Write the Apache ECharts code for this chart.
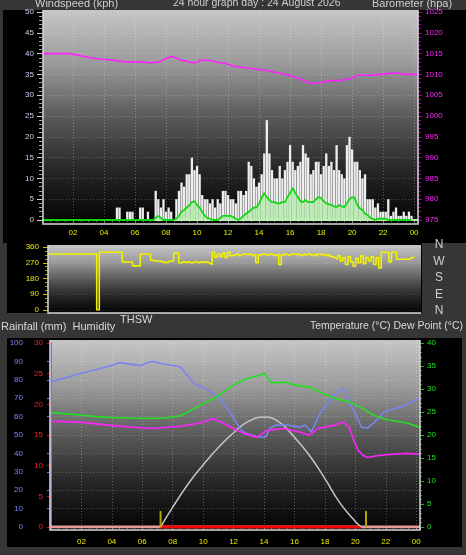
<!DOCTYPE html>
<html><head><meta charset="utf-8">
<script src="https://cdn.jsdelivr.net/npm/echarts@6/dist/echarts.min.js"></script>
<style>html,body{margin:0;padding:0;background:#363636;overflow:hidden}#c{width:466px;height:555px}</style>
</head><body><div id="c"></div><script>
// ---------- DATA ----------
const SAMPLE_MIN = 10; // wind & direction sampled every 10 minutes
const windGust = [
 0,0,0,0,0,0, 0,0,0,0,0,0, 0,0,0,0,0,0, 0,0,0,0,0,0,
 0,0,0,0,0,3, 3,0,0,2,2,2, 0,0,3,3,0,2, 0,0,7,5,3,5,
 2,3,2,0,5,7, 9,8,11,11,15,12, 13,11,6,5,5,4, 5,3,5,4,7,7,
 6,5,5,4,7,7, 6,7,14,13,10,8, 9,11,16,24,16,12, 10,10,13,10,12,14,
 18,14,12,13,14,18, 16,15,11,12,14,14, 11,13,16,13,14,12, 18,12,11,10,18,20,
 17,14,14,12,10,11, 5,5,5,3,4,2, 2,2,5,1,2,3, 1,1,2,1,2,1
];
const windAvg = [
 0,0,0,0,0,0, 0,0,0,0,0,0, 0,0,0,0,0,0, 0,0,0,0,0,0,
 0,0,0,0,0,0, 0,0,0,0,0,0, 0,0,0,0,0,0, 0,0,0.5,1,0.5,0,
 0,0,0,0,0.3,1, 2,2.4,3,3.5,4.3,4.5, 3.6,3,2,1,0.5,0.3, 0,0,0,0.5,1,1,
 1,1,0.7,0.3,0,0.5, 1,1.5,2,2.5,3,3, 4,5.3,6.5,5.5,4.8,4.3, 4.3,4,4,4.3,4.3,5.5,
 6.5,7.7,6.5,5.5,4.5,4.3, 4.8,4.3,4.3,4.3,5,5.5, 5.3,4.5,4,3.8,3.6,3.3, 3.1,3.6,3.3,3.1,4,5,
 5.5,5.3,3.6,2.8,2.4,1.5, 1.2,0.5,0.3,0,0.3,0.3, 0.3,0.3,0,0,0,0, 0,0,0,0,0,0
];
const windDir = [
 320,320,320,320,320,320, 320,320,320,320,320,320, 320,320,320,320,320,320, 320,0,330,330,330,330,
 330,330,330,330,330,274, 274,274,274,252,252,252, 320,320,320,320,285,280, 280,278,275,270,275,280,
 280,325,325,270,275,272, 275,270,272,278,270,275, 272,275,270,260,330,300, 320,305,325,300,330,310,
 315,320,310,318,322,315, 320,310,318,270,315,320, 318,312,322,316,310,320, 260,315,320,312,318,322,
 316,320,310,318,315,322, 312,318,308,320,315,318, 310,318,305,300,290,310, 280,300,260,305,275,250,
 295,270,310,265,300,280, 305,260,300,240,330,330, 330,274,330,330,290,290, 290,290,290,300,300,300
];
const baroHours = [0,1.8,2.5,3.1,3.7,4.4,5.5,6.3,7,7.6,8.1,8.4,8.9,9.5,9.9,10.2,10.8,11.4,11.8,12.3,13.7,14.4,15.4,16,16.6,17.2,17.4,17.9,18.6,19.2,19.9,20.4,21.2,21.8,22.8,23.4,24.25];
const baroValues = [1015,1015,1014.5,1014,1013.7,1013.5,1013,1013,1012.8,1013,1014,1014.3,1013.5,1013,1012.7,1013.4,1013.4,1012.8,1012.7,1012,1011.3,1011,1010.2,1009.7,1009,1008,1007.8,1008,1008.5,1008.5,1009,1009.8,1009.8,1010,1010.4,1010,1010];
const tempHours = [0,1,2.1,3,3.9,5,6.5,6.6,7.5,8.5,9,9.8,10.9,12,12.7,13.3,13.8,14,14.2,14.5,15.3,16,17,17.7,18.6,19.6,20.4,21.2,22.1,23.4,24.25];
const tempValues = [24.9,24.6,24.3,24.0,23.8,23.7,23.6,23.3,23.7,24.2,25.0,26.5,28.3,30.9,32,32.7,33,33.5,32.6,31.3,31.5,30.9,30.4,29.3,28,27.2,25.9,24.3,23.3,22.6,21.7];
const humHours = [0,0.8,1.9,3,4.1,4.5,5.2,5.9,6.3,6.7,7.4,8.5,9.4,10.3,10.9,11.6,12,12.5,12.8,13.6,14.1,14.4,14.8,15.5,16.4,16.7,17.1,17.7,18.4,19,19.2,19.6,20.1,20.4,20.8,21.2,21.9,22.3,23,23.7,24.25];
const humValues = [79,80.7,83.4,85.6,88,89.3,88.5,87.7,89.3,89.9,88.6,87.1,78,74.5,71.7,64.5,59,52.5,51,48.9,48.9,53.8,55.4,55.4,54.3,55.4,51.6,62,70,74.5,75.5,67.9,59.8,54.3,53.8,56.5,62.5,63.6,65.2,67.9,70];
const dewHours = [0,1.9,3.9,5.4,6.7,8.5,9.8,10.7,11.3,12,12.7,13.5,14.2,15.3,16.4,17,17.5,18.6,19.2,19.6,19.9,20.2,20.5,20.8,21.4,22.5,23.4,24.25];
const dewValues = [23,22.8,22.1,21.7,21.4,21.9,22.6,23.6,22.6,21.4,20.3,19.5,21,21.4,20.6,19.9,21.4,22.1,22.8,21.7,18.8,16.6,15.6,15.1,15.5,15.8,16,15.8];
const sunHours = [7.2,8,9,10,11,12,13,14,15,16,17,18,19,20,20.4];
const sunValues = [0,4.3,9.3,13.5,17.3,20.5,23,23.9,22.8,19.5,15.5,10.5,5.2,1.2,0];
const rainHours = [0,24.25];
const rainValues = [0,0];
const sunriseHour = 7.2, sunsetHour = 20.4, moonriseHour = 20.7;
const xTickLabels = ['02','04','06','08','10','12','14','16','18','20','22','00'];
const dirLabels = ['N','W','S','E','N'];

// ---------- BUILD ----------
const step = SAMPLE_MIN/60;
const pairs = arr => arr.map((v,i)=>[i*step, v]);
const zip = (h,v) => h.map((x,i)=>[x, v[i]]);
const XMAX = 24.25;
const FONT = '"Liberation Sans", Arial, sans-serif';
function hourLabel(v){
  if (v <= 0.01 || v > 24.01) return '';
  const r = Math.round(v);
  if (Math.abs(v-r) > 1e-6 || r % 2) return '';
  return xTickLabels[r/2 - 1];
}
const plain = v => String(v);
function grad(c){ return {type:'linear',x:0,y:0,x2:0,y2:1,colorStops:c}; }
const bgStops = [{offset:0,color:'#c6c6c6'},{offset:0.25,color:'#9a9a9a'},{offset:0.5,color:'#5a5a5a'},{offset:0.75,color:'#262626'},{offset:1,color:'#030303'}];

const chart = echarts.init(document.getElementById('c'));
const xBase = (gi, show, labelMargin) => ({
  type:'value', gridIndex:gi, min:0, max:XMAX, interval:2,
  axisLine:{show:false},
  axisTick:{show:show, length:3, lineStyle:{color:'#808080'}},
  minorTick:{show:show, splitNumber:4, length:2, lineStyle:{color:'#707070'}},
  axisLabel:{show:show, color:'#eaea00', fontSize:8, fontFamily:FONT, margin:labelMargin, formatter:hourLabel},
  splitLine:{show:gi!==1, lineStyle:{color:'rgba(255,255,255,0.28)', type:[1,2], width:1}}
});
const yHoriz = {show:true, lineStyle:{color:'rgba(255,255,255,0.22)', type:[1,2]}};
const HF = '11px '+FONT;

const option = {
  animation:false,
  backgroundColor:'#363636',
  textStyle:{fontFamily:FONT},
  graphic:[
    {type:'rect', z:-100, shape:{x:3,y:10,width:463,height:233}, style:{fill:'#000'}},
    {type:'rect', z:-100, shape:{x:7,y:243,width:415,height:70}, style:{fill:'#000'}},
    {type:'rect', z:-100, shape:{x:7,y:338,width:455,height:209}, style:{fill:'#000'}},
    {type:'rect', z:-99, shape:{x:43,y:10,width:375,height:214}, style:{fill:grad(bgStops)}},
    {type:'rect', z:-99, shape:{x:48,y:245,width:373,height:68}, style:{fill:grad(bgStops)}},
    {type:'rect', z:-99, shape:{x:50,y:340,width:370,height:190}, style:{fill:grad(bgStops)}},
    {type:'polyline', z:50, shape:{points:[[43,10],[43,224],[418,224],[418,10]]}, style:{stroke:'#d8d8d8', lineWidth:1.5, fill:null}},
    {type:'polyline', z:50, shape:{points:[[48,245],[48,313],[421,313]]}, style:{stroke:'#d8d8d8', lineWidth:1.5, fill:null}},
    {type:'polyline', z:50, shape:{points:[[50,340],[50,530],[420,530],[420,340]]}, style:{stroke:'#d8d8d8', lineWidth:1.5, fill:null}},
    {type:'text', z:60, x:35, y:-2, style:{text:'Windspeed (kph)', fill:'#cfcfcf', font:HF}},
    {type:'text', z:60, x:173, y:-2, style:{text:'24 hour graph day : 24 August 2026', fill:'#cfcfcf', font:'10.5px '+FONT}},
    {type:'text', z:60, x:372, y:-2, style:{text:'Barometer (hpa)', fill:'#cfcfcf', font:HF}},
    {type:'text', z:60, x:120, y:314, style:{text:'THSW', fill:'#d8d8d8', font:HF}},
    {type:'text', z:60, x:1, y:321, style:{text:'Rainfall (mm)  Humidity', fill:'#d8d8d8', font:HF}},
    {type:'text', z:60, x:463, y:321, style:{text:'Temperature (°C) Dew Point (°C)', fill:'#d8d8d8', font:'10.5px '+FONT, textAlign:'right'}},
  ].concat(dirLabels.map((t,i)=>({type:'text', z:60, x:439, y:239+i*16.5, style:{text:t, fill:'#cfcfcf', font:'12px '+FONT, textAlign:'center'}}))),
  grid:[
    {left:42, top:12, width:376, height:208},
    {left:48, top:247, width:373, height:63},
    {left:51, top:343, width:369, height:184}
  ],
  xAxis:[ xBase(0,true,9), xBase(1,false,8), xBase(2,true,11) ],
  yAxis:[
    {type:'value', gridIndex:0, position:'left', min:0, max:50, interval:5,
     axisLine:{show:false}, axisTick:{show:true,length:5,lineStyle:{color:'#d0d0d0'}},
     minorTick:{show:true,splitNumber:5,length:3,lineStyle:{color:'#a0a0a0'}},
     axisLabel:{color:'#c8d2f0', fontSize:8, margin:8, formatter:plain}, splitLine:yHoriz},
    {type:'value', gridIndex:0, position:'right', min:975, max:1025, interval:5,
     axisLine:{show:false}, axisTick:{show:true,length:4,lineStyle:{color:'#b000b0'}},
     minorTick:{show:true,splitNumber:5,length:3,lineStyle:{color:'#a000a0'}},
     axisLabel:{color:'#ff22ff', fontSize:8, margin:7, formatter:plain}, splitLine:{show:false}},
    {type:'value', gridIndex:1, position:'left', min:0, max:360, interval:90,
     axisLine:{show:false}, axisTick:{show:true,length:5,lineStyle:{color:'#c8c000'}},
     minorTick:{show:true,splitNumber:4,length:3,lineStyle:{color:'#a09800'}},
     axisLabel:{color:'#eaea00', fontSize:8, margin:9, formatter:plain}, splitLine:{show:true,lineStyle:{color:'rgba(255,255,255,0.15)',type:[1,2]}}},
    {type:'value', gridIndex:2, position:'left', offset:21, min:0, max:100, interval:10,
     axisLine:{show:true,lineStyle:{color:'#6a76e8',width:2}}, axisTick:{show:true,length:4,lineStyle:{color:'#6a76e8'}},
     minorTick:{show:true,splitNumber:5,length:2,lineStyle:{color:'#5a66d0'}},
     axisLabel:{color:'#7c88ff', fontSize:8, margin:7, formatter:plain}, splitLine:yHoriz},
    {type:'value', gridIndex:2, position:'left', min:0, max:30, interval:5,
     axisLine:{show:false}, axisTick:{show:true,length:4,lineStyle:{color:'#e00000'}},
     minorTick:{show:true,splitNumber:5,length:2,lineStyle:{color:'#c00000'}},
     axisLabel:{color:'#ff2020', fontSize:8, margin:8, formatter:plain}, splitLine:{show:false}},
    {type:'value', gridIndex:2, position:'right', min:0, max:40, interval:5,
     axisLine:{show:false}, axisTick:{show:true,length:4,lineStyle:{color:'#00c000'}},
     minorTick:{show:true,splitNumber:5,length:2,lineStyle:{color:'#00b000'}},
     axisLabel:{color:'#22e022', fontSize:8, margin:7, formatter:plain}, splitLine:{show:false}}
  ],
  series:[
    {name:'Gust', type:'bar', xAxisIndex:0, yAxisIndex:0, barWidth:2.3, barGap:'-100%', data:pairs(windGust),
     itemStyle:{color:'#eeeeee'}, silent:true},
    {name:'Speed', type:'bar', xAxisIndex:0, yAxisIndex:0, barWidth:2.3, barGap:'-100%', data:pairs(windAvg),
     itemStyle:{color:'#bdeeb6'}, silent:true,
     markLine:{silent:true, symbol:'none', label:{show:false}, lineStyle:{color:'#bdeeb6', width:2, type:'solid'}, data:[{yAxis:0}]}},
    {name:'Average', type:'line', xAxisIndex:0, yAxisIndex:0, data:pairs(windAvg), showSymbol:false,
     lineStyle:{color:'#10d810', width:1.8}, z:5},
    {name:'Barometer', type:'line', xAxisIndex:0, yAxisIndex:1, data:zip(baroHours,baroValues), showSymbol:false,
     lineStyle:{color:'#ff22ff', width:1.6}, z:6},
    {name:'Direction', type:'line', xAxisIndex:1, yAxisIndex:2, data:pairs(windDir), showSymbol:false, step:'end',
     lineStyle:{color:'#f2f200', width:1.6}},
    {name:'Rain', type:'line', xAxisIndex:2, yAxisIndex:4, data:zip(rainHours,rainValues), showSymbol:false,
     lineStyle:{color:'#e89a9a', width:3}},
    {name:'Daylight', type:'line', xAxisIndex:2, yAxisIndex:4, data:[[sunriseHour,0],[sunsetHour,0]], showSymbol:false,
     lineStyle:{color:'#ff0000', width:3}},
    {name:'Sun', type:'line', xAxisIndex:2, yAxisIndex:5, data:zip(sunHours,sunValues), showSymbol:false, smooth:true,
     lineStyle:{color:'#c4c4c4', width:1.5}},
    {name:'Humidity', type:'line', xAxisIndex:2, yAxisIndex:3, data:zip(humHours,humValues), showSymbol:false,
     lineStyle:{color:'#7a84f0', width:1.6}},
    {name:'Temperature', type:'line', xAxisIndex:2, yAxisIndex:5, data:zip(tempHours,tempValues), showSymbol:false,
     lineStyle:{color:'#22e022', width:1.6}},
    {name:'Dew Point', type:'line', xAxisIndex:2, yAxisIndex:5, data:zip(dewHours,dewValues), showSymbol:false,
     lineStyle:{color:'#ff22ff', width:1.6}},
    {name:'Sunrise', type:'line', xAxisIndex:2, yAxisIndex:4, data:[[sunriseHour,0],[sunriseHour,2.6]], showSymbol:false,
     lineStyle:{color:'#b4a400', width:2}, z:8},
    {name:'Moon Rise', type:'line', xAxisIndex:2, yAxisIndex:4, data:[[moonriseHour,0],[moonriseHour,2.6]], showSymbol:false,
     lineStyle:{color:'#b4a400', width:2}, z:8,
     label:{show:true, formatter:p=>p.dataIndex===0?'Moon Rise':'', position:'left', distance:4, color:'#c8b400', fontSize:11, fontFamily:FONT}}
  ]
};
chart.setOption(option);
</script></body></html>
